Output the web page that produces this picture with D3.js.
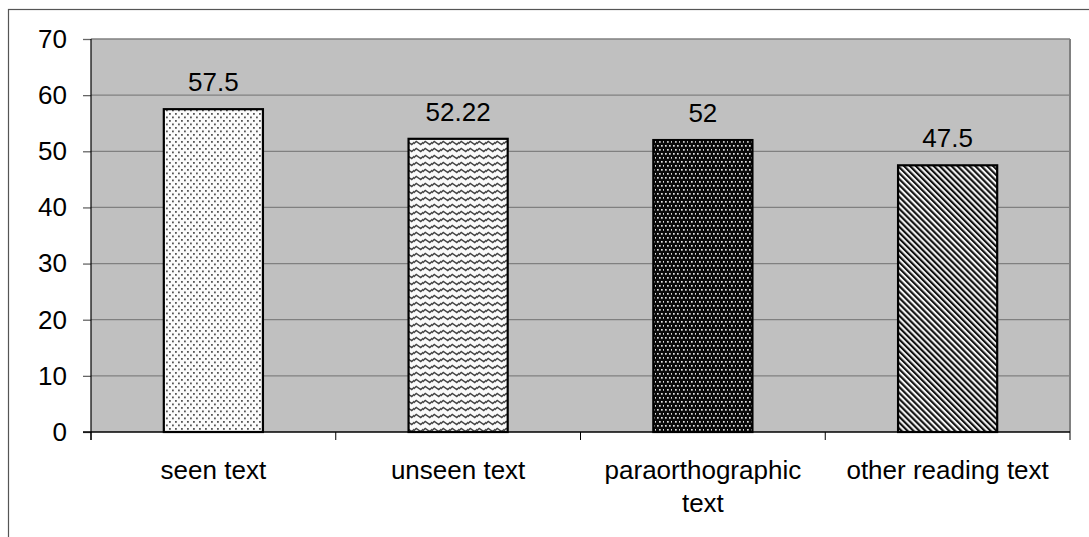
<!DOCTYPE html>
<html>
<head>
<meta charset="utf-8">
<script src="https://cdn.jsdelivr.net/npm/d3@7"></script>
<style>
  html, body { margin: 0; padding: 0; background: #fff; }
  svg { display: block; font-family: "Liberation Sans", Arial, sans-serif; }
</style>
</head>
<body>
<svg id="chart" width="1089" height="537"></svg>
<script>
// Reading scores per text type
const categories = ["seen text", "unseen text", "paraorthographic text", "other reading text"];
const categoryLines = [["seen text"], ["unseen text"], ["paraorthographic", "text"], ["other reading text"]];
const values = [57.5, 52.22, 52, 47.5];
const valueLabels = ["57.5", "52.22", "52", "47.5"];
const yTicks = [0, 10, 20, 30, 40, 50, 60, 70];
const fills = ["dots", "wave", "darkdots", "stripes"];

const svg = d3.select("#chart");
const plot = { left: 91, right: 1070, top: 39, bottom: 432 };

const x = d3.scaleBand().domain(categories).range([plot.left, plot.right]).padding(0);
const y = d3.scaleLinear().domain([0, 70]).range([plot.bottom, plot.top]);
const barW = x.bandwidth() * 0.405;

// Fill patterns for the bars
const defs = svg.append("defs");

const pDots = defs.append("pattern").attr("id", "dots")
  .attr("patternUnits", "userSpaceOnUse").attr("width", 6).attr("height", 7);
pDots.append("rect").attr("width", 6).attr("height", 7).attr("fill", "#fbfbfb");
[[1, 1], [4, 4.5]].forEach(([cx, cy]) =>
  pDots.append("rect").attr("x", cx).attr("y", cy).attr("width", 1.8).attr("height", 1.8).attr("fill", "#555"));

const pWave = defs.append("pattern").attr("id", "wave")
  .attr("patternUnits", "userSpaceOnUse").attr("width", 9).attr("height", 7);
pWave.append("rect").attr("width", 9).attr("height", 7).attr("fill", "#fafafa");
pWave.append("path").attr("d", "M-1,4.5 L2.25,1.5 L6.75,4.5 L10,1.5")
  .attr("fill", "none").attr("stroke", "#444").attr("stroke-width", 1.5);

const pDark = defs.append("pattern").attr("id", "darkdots")
  .attr("patternUnits", "userSpaceOnUse").attr("width", 8).attr("height", 8);
pDark.append("rect").attr("width", 8).attr("height", 8).attr("fill", "#0a0a0a");
[[1, 1], [5, 1], [3, 5], [7, 5]].forEach(([cx, cy]) =>
  pDark.append("rect").attr("x", cx).attr("y", cy).attr("width", 1.7).attr("height", 1.7).attr("fill", "#e0e0e0"));

const pStripes = defs.append("pattern").attr("id", "stripes")
  .attr("patternUnits", "userSpaceOnUse").attr("width", 4.2).attr("height", 4.2)
  .attr("patternTransform", "rotate(-45)");
pStripes.append("rect").attr("width", 4.2).attr("height", 4.2).attr("fill", "#f4f4f4");
pStripes.append("rect").attr("width", 2.1).attr("height", 4.2).attr("fill", "#111");

// Outer frame
svg.append("rect").attr("x", 8.5).attr("y", 9.5).attr("width", 1090).attr("height", 540)
  .attr("fill", "none").attr("stroke", "#555").attr("stroke-width", 1.2);

// Plot area
svg.append("rect").attr("x", plot.left).attr("y", plot.top)
  .attr("width", plot.right - plot.left).attr("height", plot.bottom - plot.top)
  .attr("fill", "#c0c0c0");

// Gridlines
svg.append("g").selectAll("line").data(yTicks.filter(d => d > 0)).join("line")
  .attr("x1", plot.left).attr("x2", plot.right)
  .attr("y1", d => y(d)).attr("y2", d => y(d))
  .attr("stroke", "#808080").attr("stroke-width", 1.3);

// Plot area right edge
svg.append("line").attr("x1", plot.right).attr("x2", plot.right)
  .attr("y1", plot.top).attr("y2", plot.bottom)
  .attr("stroke", "#808080").attr("stroke-width", 2);

// Bars
svg.append("g").selectAll("rect").data(categories).join("rect")
  .attr("x", d => x(d) + (x.bandwidth() - barW) / 2)
  .attr("y", (d, i) => y(values[i]))
  .attr("width", barW)
  .attr("height", (d, i) => y(0) - y(values[i]))
  .attr("fill", (d, i) => `url(#${fills[i]})`)
  .attr("stroke", "#000").attr("stroke-width", 2.2);

// Value labels
svg.append("g").selectAll("text").data(categories).join("text")
  .attr("x", d => x(d) + x.bandwidth() / 2)
  .attr("y", (d, i) => y(values[i]) - 18)
  .attr("text-anchor", "middle").attr("font-size", 26).attr("fill", "#000")
  .text((d, i) => valueLabels[i]);

// Y axis
const yAxis = svg.append("g").attr("transform", `translate(${plot.left},0)`)
  .call(d3.axisLeft(y).tickValues(yTicks).tickSize(8).tickPadding(16).tickFormat(d3.format("d")));
yAxis.select(".domain").remove();
yAxis.append("line").attr("x1", 0).attr("x2", 0).attr("y1", plot.top).attr("y2", plot.bottom + 8)
  .attr("stroke", "#000").attr("stroke-width", 1.2);
yAxis.selectAll(".tick line").attr("stroke", "#666").attr("stroke-width", 1.3);
yAxis.selectAll(".tick text").attr("font-size", 26).attr("fill", "#000")
  .attr("font-family", "Liberation Sans, Arial, sans-serif");

// X axis with ticks on category boundaries
const xAxis = svg.append("g").attr("transform", `translate(0,${plot.bottom})`);
xAxis.append("line").attr("x1", plot.left - 8).attr("x2", plot.right)
  .attr("stroke", "#000").attr("stroke-width", 1.5);
const bounds = categories.map(d => x(d)).concat([plot.right]);
xAxis.selectAll("line.tk").data(bounds).join("line").attr("class", "tk")
  .attr("x1", d => d).attr("x2", d => d).attr("y1", 0).attr("y2", 8)
  .attr("stroke", "#000").attr("stroke-width", 1);

// Category labels
const cl = svg.append("g").selectAll("text").data(categories).join("text")
  .attr("x", d => x(d) + x.bandwidth() / 2)
  .attr("y", 479)
  .attr("text-anchor", "middle").attr("font-size", 26).attr("fill", "#000");
cl.each(function(d, i) {
  d3.select(this).selectAll("tspan").data(categoryLines[i]).join("tspan")
    .attr("x", x(d) + x.bandwidth() / 2)
    .attr("dy", (t, j) => j === 0 ? 0 : 33)
    .text(t => t);
});
</script>
</body>
</html>
